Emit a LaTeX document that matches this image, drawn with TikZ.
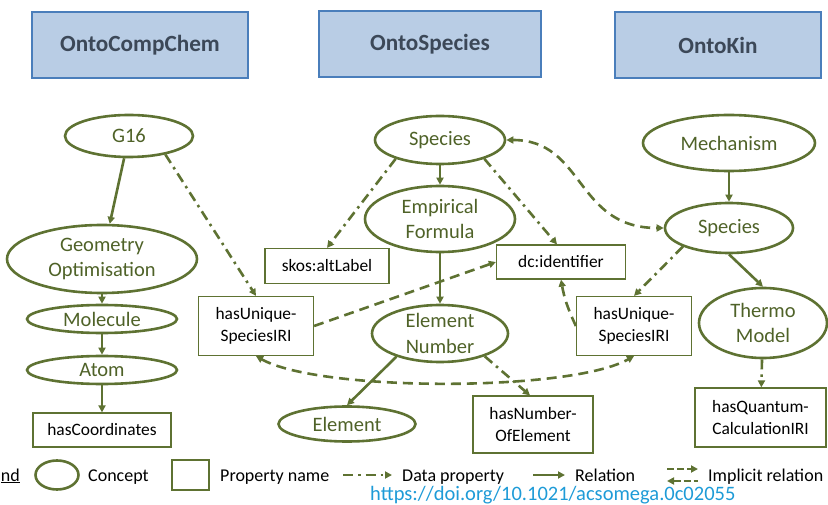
\documentclass[tikz,border=0pt]{standalone}
\usepackage{fontspec}
\setmainfont{Carlito}
\usetikzlibrary{shapes.geometric,arrows.meta,calc}
\definecolor{ol}{RGB}{94,114,50}
\definecolor{oltext}{RGB}{79,98,40}
\definecolor{hdrfill}{RGB}{185,205,229}
\definecolor{hdrdraw}{RGB}{74,126,187}
\definecolor{hdrtext}{RGB}{60,72,88}
\definecolor{urlblue}{RGB}{30,155,215}
\begin{document}
\begin{tikzpicture}[x=1pt,y=-1pt,
  >={Triangle[length=7pt,width=7pt]},
  header/.style={rectangle, draw=hdrdraw, fill=hdrfill, line width=1.6pt, inner sep=0pt,
    font=\bfseries\fontsize{23.2}{27}\selectfont, text=hdrtext},
  concept/.style={ellipse, draw=ol, line width=2.6pt, inner sep=0pt},
  ctext/.style={text=oltext, font=\fontsize{20.5}{25.5}\selectfont, align=center, inner sep=0pt},
  prop/.style={rectangle, draw=ol, line width=1.2pt, inner sep=0pt,
    font=\fontsize{17.4}{22.5}\selectfont, align=center},
  lgtext/.style={inner sep=0pt, anchor=base west, font=\fontsize{18}{21}\selectfont},
  rel/.style={draw=ol, line width=2.6pt, ->},
  dataprop/.style={draw=ol, line width=2.6pt, ->, dash pattern=on 10pt off 5pt on 2.5pt off 5pt},
  implicit/.style={draw=ol, line width=2.6pt, dash pattern=on 10pt off 6pt},
]
\useasboundingbox (0,0) rectangle (828,505);

% headers
\node[header, minimum width=216, minimum height=66] (hcc) at (140,45) {OntoCompChem};
\node[header, minimum width=222, minimum height=66] (hos) at (430,44) {OntoSpecies};
\node[header, minimum width=206, minimum height=66] (hok) at (718,45) {OntoKin};

% OntoCompChem
\node[concept, minimum width=128, minimum height=42] (g16) at (129,136) {};
\node[ctext] (g16t) at (g16) {G16};
\node[concept, minimum width=190, minimum height=68] (go) at (102,259) {};
\node[ctext] (got) at (go) {Geometry\\Optimisation};
\node[concept, minimum width=150, minimum height=28] (mol) at (102,319) {};
\node[ctext] (molt) at (mol) {Molecule};
\node[concept, minimum width=150, minimum height=28] (atom) at (102,370) {};
\node[ctext] (atomt) at (atom) {Atom};
\node[prop, minimum width=138, minimum height=34] (hc) at (102,430) {hasCoordinates};

% OntoSpecies
\node[concept, minimum width=130, minimum height=48] (spos) at (440,140) {};
\node[ctext] (spost) at (spos) {Species};
\node[concept, minimum width=150, minimum height=66] (ef) at (440,219) {};
\node[ctext] (eft) at (ef) {Empirical\\Formula};
\node[concept, minimum width=136, minimum height=57] (en) at (440,333.5) {};
\node[ctext] (ent) at (en) {Element\\Number};
\node[concept, minimum width=137, minimum height=35] (el) at (347,424) {};
\node[ctext] (elt) at (el) {Element};
\node[prop, minimum width=124, minimum height=35] (skos) at (327,266) {skos:altLabel};
\node[prop, minimum width=129, minimum height=34] (dc) at (561,262) {dc:identifier};
\node[prop, minimum width=115, minimum height=59] (hu1) at (256,326) {hasUnique-\\SpeciesIRI};
\node[prop, minimum width=115, minimum height=59] (hu2) at (634,326) {hasUnique-\\SpeciesIRI};
\node[prop, minimum width=120, minimum height=57] (hn) at (533,424.5) {hasNumber-\\OfElement};

% OntoKin
\node[concept, minimum width=172, minimum height=56] (mech) at (729,143) {};
\node[ctext] (mecht) at (mech) {Mechanism};
\node[concept, minimum width=128, minimum height=50] (spk) at (729,228) {};
\node[ctext] (spkt) at (spk) {Species};
\node[concept, minimum width=128, minimum height=70] (tm) at (763,323) {};
\node[ctext] (tmt) at (tm) {Thermo\\Model};
\node[prop, minimum width=131, minimum height=59] (hq) at (760.5,417.5) {hasQuantum-\\CalculationIRI};

% relations
\draw[rel] (g16) -- (go);
\draw[rel] (go) -- (mol);
\draw[rel] (mol) -- (atom);
\draw[rel] (atom) -- (hc);
\draw[dataprop] (g16.-27) -- (hu1.north);
\draw[rel] (spos) -- (ef);
\draw[dataprop] (spos.203) -- (skos.north);
\draw[dataprop] (spos.-23) -- ($(dc.north)+(-4,0)$);
\draw[rel] (ef) -- (en);
\draw[rel] (en.208) -- (el.north);
\draw[dataprop] (en.-27) -- ($(hn.north)+(-3,0)$);
\draw[rel] (mech) -- (spk);
\draw[rel] (spk.south) -- (tm.north);
\draw[dataprop] (spk.202) -- (hu2.north);
\draw[dataprop] (tm) -- (hq);
\draw[implicit, <->] (spos.east) .. controls (585,140) and (575,228) .. (spk.west);
\draw[implicit, <->] (hu1.south) .. controls (320,392) and (570,392) .. (hu2.south);
\draw[implicit, ->] (hu1.east) -- (dc.west);
\draw[implicit, ->] (hu2.west) to[out=115,in=-80] (dc.south);

% legend
\node[lgtext, anchor=base east] (lgn) at (20,481) {\underline{nd}};
\node[concept, minimum width=43, minimum height=29] (lgc) at (57,475) {};
\node[lgtext] (lgct) at (88,481) {Concept};
\node[prop, minimum width=37, minimum height=30] (lgp) at (190.5,475) {};
\node[lgtext] (lgpt) at (220,481) {Property name};
\coordinate (ld1) at (343,475);
\coordinate (ld2) at (392,475);
\draw[dataprop] (ld1) -- (ld2);
\node[lgtext] (lgdt) at (402,481) {Data property};
\coordinate (lr1) at (533,475);
\coordinate (lr2) at (565,475);
\draw[rel] (lr1) -- (lr2);
\node[lgtext] (lgrt) at (575,481) {Relation};
\coordinate (li1) at (667,469);
\coordinate (li2) at (698,469);
\coordinate (li3) at (667,481);
\coordinate (li4) at (698,481);
\draw[implicit, ->, line width=1.8pt, dash pattern=on 7pt off 3pt] (li1) -- (li2);
\draw[implicit, <-, line width=1.8pt, dash pattern=on 7pt off 3pt] (li3) -- (li4);
\node[lgtext] (lgit) at (708,481) {Implicit relation};
\node[inner sep=0pt, anchor=west, font=\fontsize{20.5}{24}\selectfont, text=urlblue] (url) at (370,495) {https://doi.org/10.1021/acsomega.0c02055};
\end{tikzpicture}
\end{document}
